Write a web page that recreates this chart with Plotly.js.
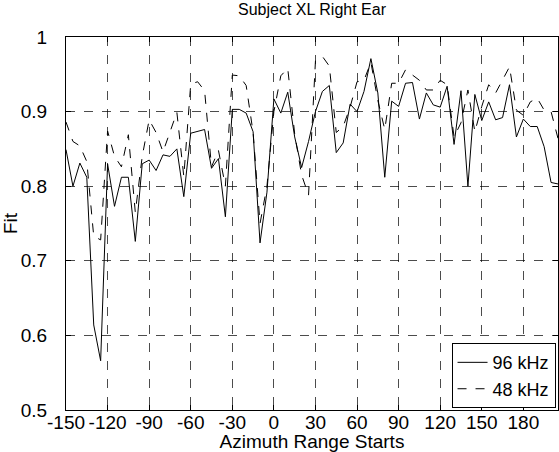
<!DOCTYPE html>
<html>
<head>
<meta charset="utf-8">
<script src="https://cdn.plot.ly/plotly-3.0.1.min.js"></script>
<style>html,body{margin:0;padding:0;background:#fff}#chart{width:559px;height:452px}</style>
</head>
<body>
<div id="chart"></div>
<script>
// Azimuth range start (degrees), step 5
const azimuth = [-150,-145,-140,-135,-130,-125,-120,-115,-110,-105,-100,-95,-90,-85,-80,-75,-70,-65,-60,-55,-50,-45,-40,-35,-30,-25,-20,-15,-10,-5,0,5,10,15,20,25,30,35,40,45,50,55,60,65,70,75,80,85,90,95,100,105,110,115,120,125,130,135,140,145,150,155,160,165,170,175,180,185,190,195,200,205];

const fit96 = [0.849,0.800,0.831,0.812,0.614,0.566,0.830,0.773,0.812,0.812,0.726,0.830,0.835,0.821,0.842,0.840,0.850,0.786,0.871,0.873,0.876,0.824,0.837,0.759,0.903,0.903,0.898,0.873,0.724,0.792,0.917,0.898,0.926,0.866,0.825,0.860,0.900,0.927,0.935,0.845,0.858,0.910,0.900,0.927,0.971,0.925,0.812,0.914,0.907,0.938,0.939,0.890,0.925,0.909,0.906,0.934,0.856,0.928,0.800,0.923,0.888,0.913,0.889,0.892,0.936,0.866,0.890,0.880,0.880,0.853,0.805,0.803];

const fit48 = [0.886,0.860,0.854,0.833,0.733,0.728,0.874,0.840,0.826,0.869,0.765,0.840,0.889,0.872,0.846,0.872,0.899,0.813,0.937,0.940,0.928,0.826,0.848,0.800,0.949,0.948,0.935,0.872,0.750,0.800,0.900,0.948,0.958,0.870,0.815,0.788,0.968,0.974,0.961,0.872,0.880,0.906,0.940,0.942,0.966,0.915,0.876,0.938,0.938,0.956,0.949,0.942,0.929,0.929,0.942,0.936,0.866,0.885,0.929,0.873,0.907,0.936,0.925,0.942,0.960,0.902,0.895,0.913,0.918,0.902,0.900,0.864];

const seriesNames = ['96 kHz', '48 kHz'];
const xTicks = [-150,-120,-90,-60,-30,0,30,60,90,120,150,180];
const yTicks = [0.5,0.6,0.7,0.8,0.9,1];
const yTickText = ['0.5','0.6','0.7','0.8','0.9','1'];

const FONT = 'Liberation Sans, Arial, Helvetica, sans-serif';

const traces = [
  {x: azimuth, y: fit96, name: seriesNames[0], mode: 'lines', type: 'scatter',
   line: {color: '#000', width: 1, dash: 'solid'}},
  {x: azimuth, y: fit48, name: seriesNames[1], mode: 'lines', type: 'scatter',
   line: {color: '#000', width: 1, dash: 'dash'}}
];

const axisCommon = {
  showline: true, linecolor: '#000', linewidth: 1, mirror: 'ticks',
  ticks: 'inside', ticklen: 5, tickcolor: '#000', tickwidth: 1,
  showgrid: true, gridcolor: '#000', gridwidth: 0.7, griddash: 'dash',
  zeroline: false, tickangle: 0, tickfont: {family: FONT, size: 19, color: '#000'}
};

const layout = {
  width: 559, height: 452,
  margin: {l: 66, r: 1, t: 37, b: 42},
  paper_bgcolor: '#fff', plot_bgcolor: '#fff',
  font: {family: FONT, color: '#000'},
  title: {text: 'Subject XL Right Ear', font: {family: FONT, size: 16, color: '#000'},
          x: 0.5, xref: 'paper', xanchor: 'center', y: 1, yref: 'container', yanchor: 'top', pad: {t: 4}},
  xaxis: Object.assign({}, axisCommon, {
    range: [-150, 205], tickvals: xTicks, ticktext: xTicks.map(String),
    automargin: false, ticklabelstandoff: -5,
    title: {text: 'Azimuth Range Starts', font: {family: FONT, size: 19, color: '#000'}, standoff: 0}
  }),
  yaxis: Object.assign({}, axisCommon, {
    range: [0.5, 1], tickvals: yTicks, ticktext: yTickText,
    ticklabelstandoff: 14, automargin: false,
    title: {text: 'Fit', font: {family: FONT, size: 19, color: '#000'}, standoff: 2}
  }),
  showlegend: true,
  legend: {x: 0.995, y: 0.005, xanchor: 'right', yanchor: 'bottom',
           bgcolor: '#fff', bordercolor: '#000', borderwidth: 1,
           font: {family: FONT, size: 18, color: '#000'},
           itemwidth: 30, tracegroupgap: 0}
};

Plotly.newPlot('chart', traces, layout, {displayModeBar: false, staticPlot: true});
</script>
</body>
</html>
